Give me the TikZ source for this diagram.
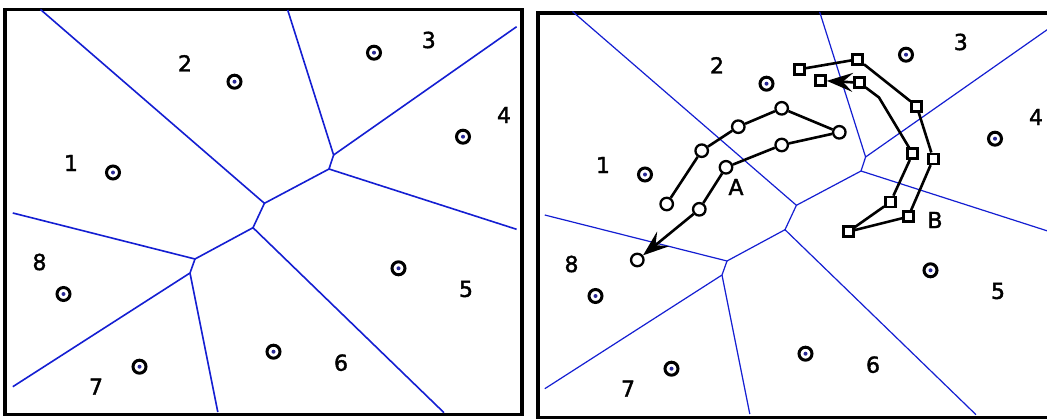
\documentclass[tikz,border=0pt]{standalone}
\usepackage{fontspec}
\setmainfont{DejaVu Sans}
\newfontfamily\labfont[FakeBold=1.8]{DejaVu Sans}
\usetikzlibrary{arrows.meta}
\definecolor{vblue}{RGB}{20,30,210}
\definecolor{xblue}{RGB}{40,40,150}
\tikzset{
  frame/.style={draw=black,line width=3.5pt},
  vedge/.style={draw=vblue,line width=1.3pt},
  site/.style={circle,draw=black,line width=3pt,minimum size=13pt,inner sep=0pt,
    path picture={\fill[xblue] (path picture bounding box.center) circle (2pt);}},
  lab/.style={inner sep=0pt,font=\labfont\fontsize{22}{25}\selectfont},
  tcirc/.style={circle,draw=black,line width=2.3pt,minimum size=12.5pt,inner sep=0pt},
  tsq/.style={rectangle,draw=black,line width=2.6pt,minimum size=10pt,inner sep=0pt},
  traj/.style={draw=black,line width=2.6pt},
  bighead/.tip={Stealth[length=26pt,width=19pt,inset=10pt]},
  tarrow/.style={traj,-bighead}
}
\newcommand{\voronoipanel}[1]{%
  \draw[vedge,line width=#1] (40.5,9.5) -- (264.4,203.3) -- (329,169) -- (333.6,155) -- (287.7,10);
  \draw[vedge,line width=#1] (333.6,155) -- (516.6,26.7);
  \draw[vedge,line width=#1] (329,169) -- (516.6,229.3);
  \draw[vedge,line width=#1] (264.4,203.3) -- (253,227.7) -- (444,412.7);
  \draw[vedge,line width=#1] (253,227.7) -- (195,259) -- (12.8,213);
  \draw[vedge,line width=#1] (195,259) -- (190,273) -- (12.8,386.7);
  \draw[vedge,line width=#1] (190,273) -- (217.8,412);
}
\newcommand{\sitespanel}[1]{%
  \node[site] (#1s1) at (113,172.5) {};
  \node[site] (#1s2) at (234.5,81.7) {};
  \node[site] (#1s3) at (374,52.7) {};
  \node[site] (#1s4) at (463,136.7) {};
  \node[site] (#1s5) at (398.5,268.3) {};
  \node[site] (#1s6) at (273.5,351.7) {};
  \node[site] (#1s7) at (139.5,366.7) {};
  \node[site] (#1s8) at (63.5,294) {};
  \node[lab] (#1l1) at (71,163) {1};
  \node[lab] (#1l2) at (185,63.3) {2};
  \node[lab] (#1l3) at (428.8,40) {3};
  \node[lab] (#1l4) at (504,115) {4};
  \node[lab] (#1l5) at (466,289) {5};
  \node[lab] (#1l6) at (341,362.7) {6};
  \node[lab] (#1l7) at (96,386.7) {7};
  \node[lab] (#1l8) at (39.5,262) {8};
}
\begin{document}
\begin{tikzpicture}[x=1pt,y=-1pt]
\useasboundingbox (0,0) rectangle (1047,418);
\clip (0,0) rectangle (1047,418);
\fill[white] (0,0) rectangle (1047,418);
% left panel
\draw[frame] (5,9.5) rectangle (522,414.5);
\voronoipanel{1.6pt}
\sitespanel{L}
% right panel
\draw[frame] (538,13) rectangle (1070,417.5);
\begin{scope}[shift={(532,2)}]
\voronoipanel{1.2pt}
\sitespanel{R}
\end{scope}
% trajectory A
\node[tcirc] (a1) at (666.7,204) {};
\node[tcirc] (a2) at (701.7,150.7) {};
\node[tcirc] (a3) at (738.3,126.7) {};
\node[tcirc] (a4) at (781.7,108.3) {};
\node[tcirc] (a5) at (839.3,132.3) {};
\node[tcirc] (a6) at (781.7,145) {};
\node[tcirc] (a7) at (726,167.3) {};
\node[tcirc] (a8) at (699.3,209.3) {};
\node[tcirc] (a9) at (637.3,260) {};
\draw[traj] (a1) -- (a2) -- (a3) -- (a4) -- (a5) -- (a6) -- (a7) -- (a8);
\draw[tarrow] (a8) -- (a9);
\node[lab] (labA) at (736,187) {A};
% trajectory B
\node[tsq] (b1) at (799.3,69.3) {};
\node[tsq] (b2) at (857.7,59.3) {};
\node[tsq] (b3) at (916.7,106.2) {};
\node[tsq] (b4) at (933.3,158.8) {};
\node[tsq] (b5) at (908.3,216.7) {};
\node[tsq] (b6) at (848.3,231.7) {};
\node[tsq] (b7) at (890.5,202) {};
\node[tsq] (b8) at (912.7,153.7) {};
\coordinate (bend) at (879,97.5);
\node[tsq] (b9) at (859.3,82.7) {};
\node[tsq] (b10) at (820.5,80.5) {};
\draw[traj] (b1) -- (b2) -- (b3) -- (b4) -- (b5) -- (b6) -- (b7) -- (b8) -- (bend) -- (b9);
\draw[tarrow] (b9) -- (b10);
\node[lab] (labB) at (935,220) {B};
\end{tikzpicture}
\end{document}
